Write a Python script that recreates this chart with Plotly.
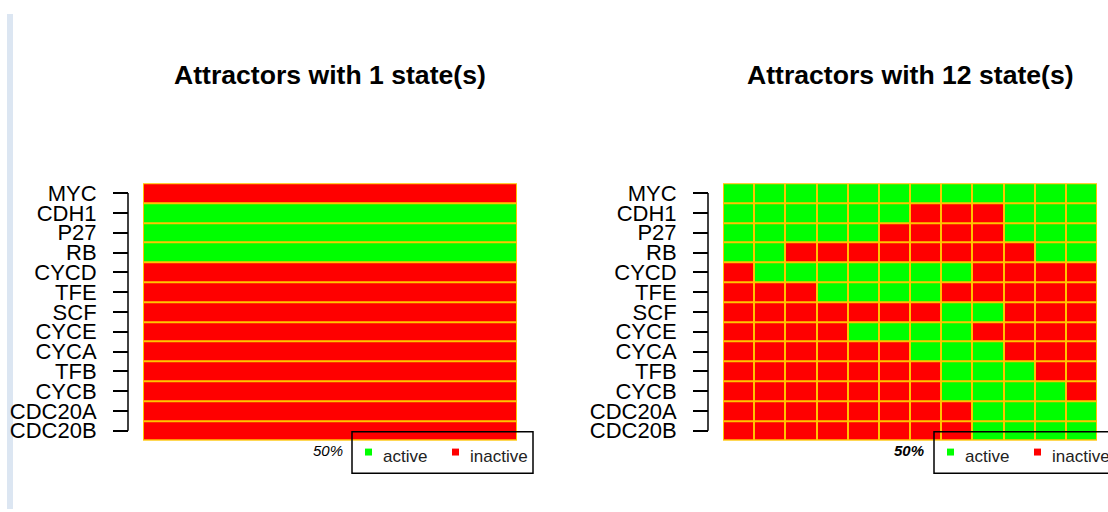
import plotly.graph_objects as go

W, H = 1108, 512

genes = ["MYC", "CDH1", "P27", "RB", "CYCD", "TFE", "SCF",
         "CYCE", "CYCA", "TFB", "CYCB", "CDC20A", "CDC20B"]

# 1 = active, 0 = inactive
single_state = [0, 1, 1, 1, 0, 0, 0, 0, 0, 0, 0, 0, 0]

# one row per gene, one column per state of the cyclic attractor
cycle_states = [
    [1, 1, 1, 1, 1, 1, 1, 1, 1, 1, 1, 1],  # MYC
    [1, 1, 1, 1, 1, 1, 0, 0, 0, 1, 1, 1],  # CDH1
    [1, 1, 1, 1, 1, 0, 0, 0, 0, 1, 1, 1],  # P27
    [1, 1, 0, 0, 0, 0, 0, 0, 0, 0, 1, 1],  # RB
    [0, 1, 1, 1, 1, 1, 1, 1, 0, 0, 0, 0],  # CYCD
    [0, 0, 0, 1, 1, 1, 1, 0, 0, 0, 0, 0],  # TFE
    [0, 0, 0, 0, 0, 0, 0, 1, 1, 0, 0, 0],  # SCF
    [0, 0, 0, 0, 1, 1, 1, 1, 0, 0, 0, 0],  # CYCE
    [0, 0, 0, 0, 0, 0, 1, 1, 1, 0, 0, 0],  # CYCA
    [0, 0, 0, 0, 0, 0, 0, 1, 1, 1, 0, 0],  # TFB
    [0, 0, 0, 0, 0, 0, 0, 1, 1, 1, 1, 0],  # CYCB
    [0, 0, 0, 0, 0, 0, 0, 0, 1, 1, 1, 1],  # CDC20A
    [0, 0, 0, 0, 0, 0, 0, 0, 1, 1, 1, 1],  # CDC20B
]

titles = ["Attractors with 1 state(s)", "Attractors with 12 state(s)"]
legend_labels = ["active", "inactive"]
percent_label = "50%"

ACTIVE = "#00FF00"
INACTIVE = "#FF0000"
GRID = "#FFC400"
FONT = "Liberation Sans, Arial, sans-serif"


def fx(px):
    return px / W


def fy(py):
    return 1 - py / H


colorscale = [[0, INACTIVE], [0.5, INACTIVE], [0.5, ACTIVE], [1, ACTIVE]]

panels = [
    dict(z=[[v] for v in single_state], left=143, right=517, axis_x=128,
         legend_left=352, pct_right=345, pct_bold=False),
    dict(z=cycle_states, left=723, right=1097, axis_x=708,
         legend_left=934, pct_right=926, pct_bold=True),
]

top, bottom = 183, 443

fig = go.Figure()
shapes = []
annotations = []

for i, p in enumerate(panels):
    sfx = "" if i == 0 else str(i + 1)
    ncol = len(p["z"][0])
    fig.add_trace(go.Heatmap(
        z=p["z"], x=list(range(1, ncol + 1)), y=genes,
        colorscale=colorscale, zmin=0, zmax=1, showscale=False,
        xgap=2, ygap=2, hoverinfo="skip",
        xaxis="x" + sfx, yaxis="y" + sfx,
    ))
    fig.update_layout(**{
        "xaxis" + sfx: dict(
            domain=[fx(p["left"]), fx(p["right"])], anchor="y" + sfx,
            showticklabels=False, ticks="", showgrid=False, zeroline=False,
            showline=False,
        ),
        "yaxis" + sfx: dict(
            domain=[fy(bottom), fy(top)], anchor="free",
            position=fx(p["axis_x"]),
            type="category", categoryorder="array", categoryarray=genes,
            tickmode="array", tickvals=genes, ticktext=genes,
            autorange="reversed", showgrid=False, zeroline=False,
            showline=False, ticks="outside", ticklen=15, tickwidth=1.5,
            tickcolor="black", ticklabelstandoff=12,
            tickfont=dict(family=FONT, size=22, color="black"),
        ),
    })
    # axis spine from the first to the last tick
    shapes.append(dict(
        type="line", xref="paper", yref="y" + sfx,
        x0=fx(p["axis_x"]), x1=fx(p["axis_x"]), y0=genes[0], y1=genes[-1],
        line=dict(color="black", width=1.5),
    ))
    # panel title
    annotations.append(dict(
        text="<b>%s</b>" % titles[i], xref="paper", yref="paper",
        x=fx((p["left"] + p["right"]) / 2), y=fy(74),
        xanchor="center", yanchor="middle", showarrow=False,
        font=dict(family=FONT, size=26.6, color="black"),
    ))
    # legend box
    L = p["legend_left"]
    shapes.append(dict(
        type="rect", xref="paper", yref="paper",
        x0=fx(L), x1=fx(L + 181), y0=fy(476), y1=fy(434),
        line=dict(color="black", width=1.5), fillcolor="rgba(0,0,0,0)",
    ))
    for j, (lab, col) in enumerate(zip(legend_labels, [ACTIVE, INACTIVE])):
        sx = L + 13 + j * 87
        shapes.append(dict(
            type="rect", xref="paper", yref="paper",
            x0=fx(sx), x1=fx(sx + 7), y0=fy(458), y1=fy(451),
            line=dict(width=0), fillcolor=col,
        ))
        annotations.append(dict(
            text=lab, xref="paper", yref="paper",
            x=fx(sx + 16), y=fy(459), xanchor="left", yanchor="middle",
            showarrow=False, font=dict(family=FONT, size=17, color="#222"),
        ))
    pct = "<i>%s</i>" % percent_label
    if p["pct_bold"]:
        pct = "<b>%s</b>" % pct
    annotations.append(dict(
        text=pct, xref="paper", yref="paper",
        x=fx(p["pct_right"]), y=fy(453), xanchor="right", yanchor="middle",
        showarrow=False, font=dict(family=FONT, size=15, color="black"),
    ))

# page edge strip on the left
shapes.append(dict(
    type="rect", xref="paper", yref="paper", layer="below",
    x0=fx(7), x1=fx(13), y0=0, y1=fy(12),
    line=dict(width=0), fillcolor="#DCE6F2",
))

fig.update_layout(
    width=W, height=H, margin=dict(l=0, r=0, t=0, b=0),
    paper_bgcolor="white", plot_bgcolor=GRID,
    shapes=shapes, annotations=annotations, showlegend=False,
)

fig.write_html("out.html", config={"displayModeBar": False})
